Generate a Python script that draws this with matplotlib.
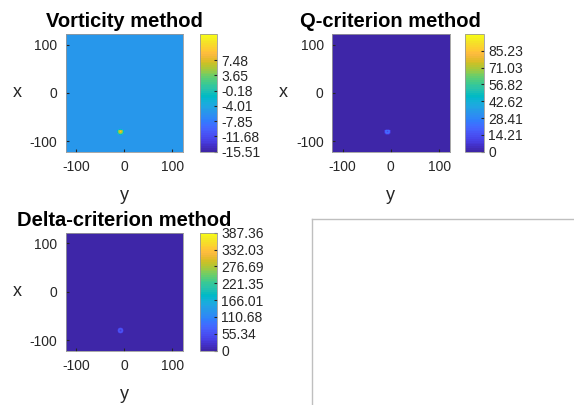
import numpy as np
import matplotlib
matplotlib.use('Agg')
import matplotlib.pyplot as plt
from matplotlib.colors import ListedColormap

plt.rcParams['font.family'] = ['Liberation Sans', 'DejaVu Sans']
plt.rcParams['axes.unicode_minus'] = False

# ---------------- data ----------------
titles = ['Vorticity method', 'Q-criterion method', 'Delta-criterion method']
axis_ticks = [-100, 0, 100]
grid_min, grid_max, grid_step = -122, 122, 2
vortex_y, vortex_x = -7, -80

vort_background = -5.5
vort_patch = [[-5.5, -4, -2, -1, -2, -4, -5.5],
              [-4, 0, 3, 4, 3, 0, -4],
              [-2, 3, 6, 7, 6, 3, -2],
              [-1, 4, 7, 9, 7, 4, -1],
              [-2, 3, 6, 7, 6, 3, -2],
              [-4, 0, 3, 4, 3, 0, -4],
              [-5.5, -4, -2, -1, -2, -4, -5.5]]
vort_clim = [-15.51, 14.0]
vort_ticks = [-15.51, -11.68, -7.85, -4.01, -0.18, 3.65, 7.48]

q_background = 0.0
q_patch = [[0, 2, 5, 6, 5, 2, 0],
           [2, 10, 18, 20, 18, 10, 2],
           [5, 18, 22, 18, 22, 18, 5],
           [6, 20, 18, 12, 18, 20, 6],
           [5, 18, 22, 18, 22, 18, 5],
           [2, 10, 18, 20, 18, 10, 2],
           [0, 2, 5, 6, 5, 2, 0]]
q_clim = [0, 99.44]
q_ticks = [0, 14.21, 28.41, 42.62, 56.82, 71.03, 85.23]

d_background = 0.0
d_patch = [[0, 5, 12, 15, 12, 5, 0],
           [5, 30, 50, 55, 50, 30, 5],
           [12, 50, 60, 45, 60, 50, 12],
           [15, 55, 45, 25, 45, 55, 15],
           [12, 50, 60, 45, 60, 50, 12],
           [5, 30, 50, 55, 50, 30, 5],
           [0, 5, 12, 15, 12, 5, 0]]
d_clim = [0, 387.36]
d_ticks = [0, 55.34, 110.68, 166.01, 221.35, 276.69, 332.03, 387.36]

parula_data = [
 [0.2422,0.1504,0.6603],[0.2504,0.1650,0.7076],[0.2578,0.1818,0.7511],[0.2647,0.1978,0.7952],
 [0.2706,0.2147,0.8364],[0.2751,0.2342,0.8710],[0.2783,0.2559,0.8991],[0.2803,0.2782,0.9221],
 [0.2813,0.3006,0.9414],[0.2810,0.3228,0.9579],[0.2795,0.3447,0.9717],[0.2760,0.3667,0.9829],
 [0.2699,0.3892,0.9906],[0.2602,0.4123,0.9952],[0.2440,0.4358,0.9988],[0.2206,0.4603,0.9973],
 [0.1963,0.4847,0.9892],[0.1834,0.5074,0.9798],[0.1786,0.5289,0.9682],[0.1764,0.5499,0.9520],
 [0.1687,0.5703,0.9359],[0.1540,0.5902,0.9218],[0.1460,0.6091,0.9079],[0.1380,0.6276,0.8973],
 [0.1248,0.6459,0.8883],[0.1113,0.6635,0.8763],[0.0952,0.6798,0.8598],[0.0689,0.6948,0.8394],
 [0.0297,0.7082,0.8163],[0.0036,0.7203,0.7917],[0.0067,0.7312,0.7660],[0.0433,0.7411,0.7394],
 [0.0964,0.7500,0.7120],[0.1408,0.7584,0.6842],[0.1717,0.7670,0.6554],[0.1938,0.7758,0.6251],
 [0.2161,0.7843,0.5923],[0.2470,0.7918,0.5567],[0.2906,0.7973,0.5188],[0.3406,0.8008,0.4789],
 [0.3909,0.8029,0.4354],[0.4456,0.8024,0.3909],[0.5044,0.7993,0.3480],[0.5616,0.7942,0.3045],
 [0.6174,0.7876,0.2612],[0.6720,0.7793,0.2227],[0.7242,0.7698,0.1910],[0.7738,0.7598,0.1646],
 [0.8203,0.7498,0.1535],[0.8634,0.7406,0.1596],[0.9035,0.7330,0.1774],[0.9393,0.7288,0.2100],
 [0.9728,0.7298,0.2394],[0.9956,0.7434,0.2371],[0.9970,0.7659,0.2199],[0.9952,0.7893,0.2028],
 [0.9892,0.8136,0.1885],[0.9786,0.8386,0.1766],[0.9676,0.8639,0.1643],[0.9610,0.8890,0.1537],
 [0.9597,0.9135,0.1423],[0.9628,0.9373,0.1265],[0.9691,0.9606,0.1064],[0.9769,0.9839,0.0805]]
parula = ListedColormap(parula_data, name='parula')

# ---------------- figure ----------------
W, H = 574, 405
fig = plt.figure(figsize=(W / 100, H / 100), dpi=100)
txt = (0.15, 0.15, 0.15)
edge = (0.6, 0.6, 0.6)


def px_axes(left, top, right, bottom):
    return fig.add_axes([left / W, 1 - bottom / H, (right - left) / W, (bottom - top) / H])


edges = np.arange(grid_min, grid_max + grid_step, grid_step)
n = len(edges) - 1
centers = (edges[:-1] + edges[1:]) / 2


def build_field(background, patch):
    f = np.full((n, n), float(background))
    p = np.array(patch, dtype=float)
    h = p.shape[0] // 2
    iy = int(np.argmin(np.abs(centers - vortex_y)))
    ix = int(np.argmin(np.abs(centers - vortex_x)))
    f[ix - h:ix + h + 1, iy - h:iy + h + 1] = p
    return f


panels = [
    (titles[0], build_field(vort_background, vort_patch), vort_clim, vort_ticks,
     (65.7, 34, 182.7, 151.7), (200, 34, 217, 151.7)),
    (titles[1], build_field(q_background, q_patch), q_clim, q_ticks,
     (332, 34, 449.7, 151.7), (465, 34, 484, 151.7)),
    (titles[2], build_field(d_background, d_patch), d_clim, d_ticks,
     (65.7, 232.7, 182.7, 350.7), (200, 232.7, 217, 350.7)),
]

for title, field, clim, cticks, apos, cpos in panels:
    ax = px_axes(*apos)
    mesh = ax.pcolormesh(edges, edges, field, cmap=parula, vmin=clim[0], vmax=clim[1],
                         shading='flat')
    ax.set_xlim(grid_min, grid_max)
    ax.set_ylim(grid_min, grid_max)
    ax.set_xticks(axis_ticks)
    ax.set_yticks(axis_ticks)
    ax.tick_params(direction='in', length=2, labelsize=10, colors=txt, pad=6)
    for s in ax.spines.values():
        s.set_color(edge)
        s.set_linewidth(0.6)
    ax.set_xlabel('y', fontsize=13, color=txt, labelpad=9)
    ax.set_ylabel('x', fontsize=13, color=txt, rotation=0, labelpad=9, va='center')
    ax.set_title(title, fontsize=14.5, fontweight='bold', color='black', pad=5)

    cax = px_axes(*cpos)
    cb = fig.colorbar(mesh, cax=cax, ticks=cticks)
    cb.ax.set_yticklabels([f'{t:g}' if t == 0 else f'{t:.2f}' for t in cticks])
    cb.ax.tick_params(direction='in', length=2, labelsize=10, colors=txt, pad=3)
    cb.outline.set_edgecolor(edge)
    cb.outline.set_linewidth(0.6)

# empty fourth panel (cut off at the figure edge)
ax4 = px_axes(312, 219, 620, 460)
ax4.set_xticks([])
ax4.set_yticks([])
for s in ax4.spines.values():
    s.set_color((0.75, 0.75, 0.75))
    s.set_linewidth(1.0)

fig.savefig('out.png', dpi=100)
